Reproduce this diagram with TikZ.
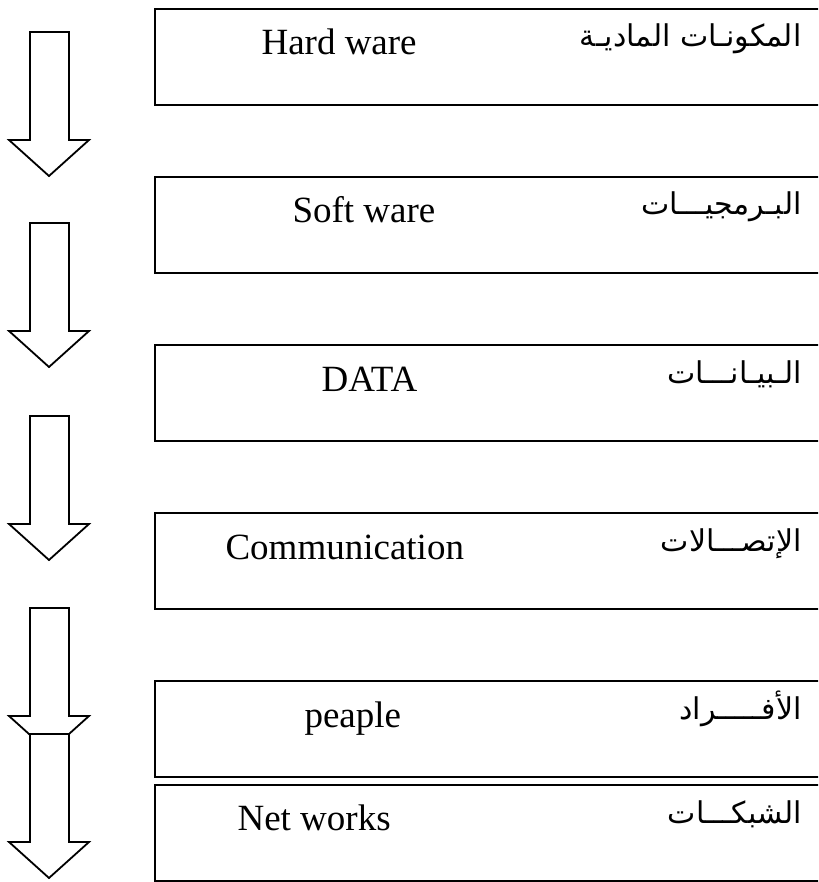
\documentclass[tikz,border=0pt]{standalone}
\usepackage{fontspec}
\setmainfont{Liberation Serif}
\newfontfamily\arabicfont[Script=Arabic]{DejaVu Sans}
\TeXXeTstate=1

\begin{document}
\begin{tikzpicture}[
		x=1pt, y=-1pt,
		box/.style={draw, line width=2.2pt, minimum width=800pt, minimum height=96pt, inner sep=0pt, anchor=north west},
		entext/.style={anchor=base west, font=\fontsize{37}{44}\selectfont},
		artext/.style={anchor=base east, font=\fontsize{30}{38}\selectfont\arabicfont},
		blockarrow/.style={draw, line width=1.8pt, fill=white, line join=miter},
%		box/.style={minimum height=92pt}
		]
		\useasboundingbox (0,0) rectangle (818,882);
		\clip (0,0) rectangle (818,882);
		% the boxes
		\node[box] (hw) at (154,8) {};
		\node[box] (sw) at (154,176) {};
		\node[box] (data) at (154,344) {};
		\node[box] (comm) at (154,512) {};
		\node[box] (ppl) at (154,680) {};
		\node[box] (net) at (154,784) {};
		% english names
		\node[entext] (hwen) at (258,55) {Hard ware};
		\node[entext] (swen) at (289,223) {Soft ware};
		\node[entext] (dataen) at (318,391) {DATA};
		\node[entext] (commen) at (222,559) {Communication};
		\node[entext] (pplen) at (301,727) {peaple};
		\node[entext] (neten) at (234,830) {Net works};
		% arabic names
		\node[artext] (hwar) at (805,47) {\beginR المكونـات الماديـة\endR};
		\node[artext] (swar) at (805,215) {\beginR البـرمجيـــات\endR};
		\node[artext] (dataar) at (805,383) {\beginR الـبيـانـــات\endR};
		\node[artext] (commar) at (805,551) {\beginR الإتصـــالات\endR};
		\node[artext] (pplar) at (805,719) {\beginR الأفـــــراد\endR};
		\node[artext] (netar) at (805,823) {\beginR الشبكـــات\endR};
		% the arrows
		\foreach \top in {32,223,416,608,734}
			\draw[blockarrow] (30,\top) -- (69,\top) -- (69,\top+108) -- (89,\top+108)
				-- (49,\top+144) -- (9,\top+108) -- (30,\top+108) -- cycle;
\end{tikzpicture}
\end{document}
